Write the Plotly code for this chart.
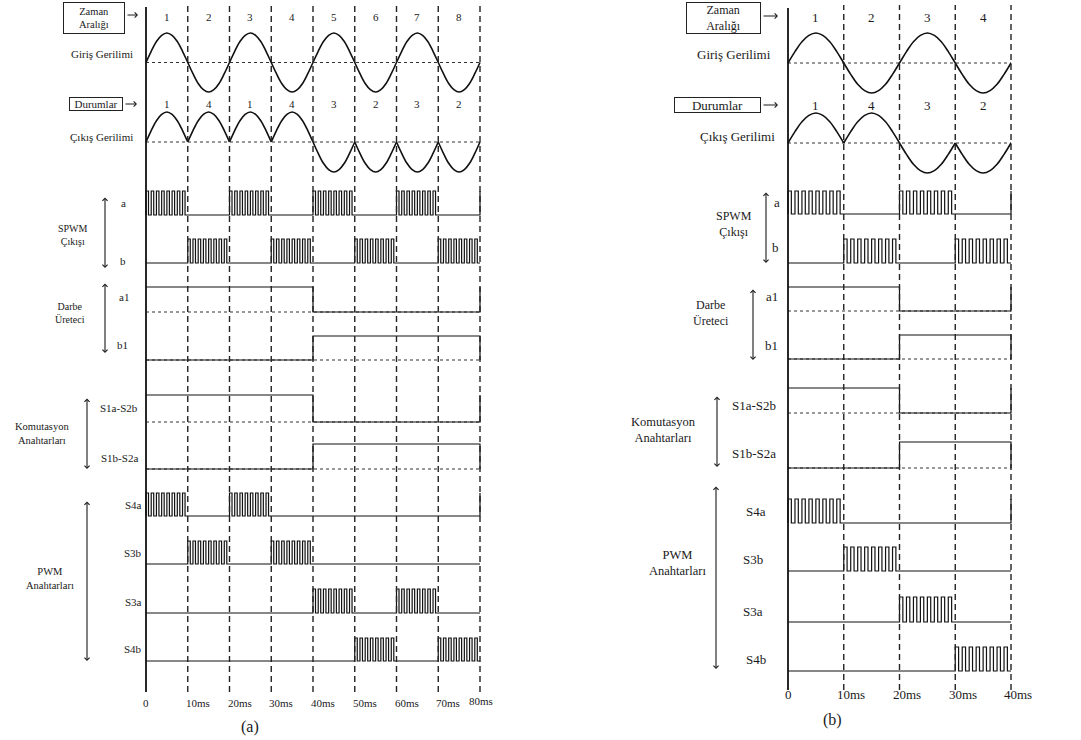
import plotly.graph_objects as go

W, H = 1081, 740

# ---------------- data ----------------
# panel (a): 0-80 ms, eight 10 ms intervals
zaman_a = ["1", "2", "3", "4", "5", "6", "7", "8"]
durum_a = ["1", "4", "1", "4", "3", "2", "3", "2"]
giris_a = [1, -1, 1, -1, 1, -1, 1, -1]      # polarity of each input half-cycle
cikis_a = [1, 1, 1, 1, -1, -1, -1, -1]      # polarity of each output half-cycle
spwm_a_a = [1, 0, 1, 0, 1, 0, 1, 0]
spwm_b_a = [0, 1, 0, 1, 0, 1, 0, 1]
a1_a = [1, 1, 1, 1, 0, 0, 0, 0]
b1_a = [0, 0, 0, 0, 1, 1, 1, 1]
s1a_s2b_a = [1, 1, 1, 1, 0, 0, 0, 0]
s1b_s2a_a = [0, 0, 0, 0, 1, 1, 1, 1]
s4a_a = [1, 0, 1, 0, 0, 0, 0, 0]
s3b_a = [0, 1, 0, 1, 0, 0, 0, 0]
s3a_a = [0, 0, 0, 0, 1, 0, 1, 0]
s4b_a = [0, 0, 0, 0, 0, 1, 0, 1]
ticks_a = [0, 10, 20, 30, 40, 50, 60, 70, 80]
tick_labels_a = ["0", "10ms", "20ms", "30ms", "40ms", "50ms", "60ms", "70ms", "80ms"]

# panel (b): 0-40 ms, four 10 ms intervals
zaman_b = ["1", "2", "3", "4"]
durum_b = ["1", "4", "3", "2"]
giris_b = [1, -1, 1, -1]
cikis_b = [1, 1, -1, -1]
spwm_a_b = [1, 0, 1, 0]
spwm_b_b = [0, 1, 0, 1]
a1_b = [1, 1, 0, 0]
b1_b = [0, 0, 1, 1]
s1a_s2b_b = [1, 1, 0, 0]
s1b_s2a_b = [0, 0, 1, 1]
s4a_b = [1, 0, 0, 0]
s3b_b = [0, 1, 0, 0]
s3a_b = [0, 0, 1, 0]
s4b_b = [0, 0, 0, 1]
ticks_b = [0, 10, 20, 30, 40]
tick_labels_b = ["0", "10ms", "20ms", "30ms", "40ms"]

interval_ms = 10
# one half-cycle of the sine, sampled (ms, per-unit)
hc_t = [0, 1.25, 2.5, 3.75, 5, 6.25, 7.5, 8.75, 10]
hc_v = [0, 0.38, 0.71, 0.92, 1, 0.92, 0.71, 0.38, 0]
# pulse edges inside an active 10 ms interval (ms)
pulse_on = [0.0, 1.25, 2.5, 3.75, 5.0, 6.25, 7.5, 8.75]
pulse_off = [0.6, 1.85, 3.1, 4.35, 5.6, 6.85, 8.1, 9.35]

# ---------------- style ----------------
FONT = "Liberation Serif, Times New Roman, DejaVu Serif, serif"
TXT = "#1a1a1a"
LINE = "#111111"

fig = go.Figure()
_ax = [0]


def new_yaxis(xid, top_px, bot_px, vlo, vhi, pad=5):
    _ax[0] += 1
    n = _ax[0]
    ppu = (bot_px - top_px) / (vhi - vlo)
    dom = [1 - (bot_px + pad) / H, 1 - (top_px - pad) / H]
    rng = [vlo - pad / ppu, vhi + pad / ppu]
    key = "yaxis" if n == 1 else f"yaxis{n}"
    fig.update_layout(**{key: dict(domain=dom, range=rng, visible=False,
                                    fixedrange=True, anchor=xid)})
    return "y" if n == 1 else f"y{n}"


def wave(signs, continuous):
    xs, ys = [], []
    for i, s in enumerate(signs):
        for j, (t, v) in enumerate(zip(hc_t, hc_v)):
            if continuous and i > 0 and j == 0:
                continue
            xs.append(i * interval_ms + t)
            ys.append(s * v)
        if not continuous:
            xs.append(None)
            ys.append(None)
    return xs, ys


def steps(levels, pulsed):
    xs, ys = [], []
    for i, lv in enumerate(levels):
        t0 = i * interval_ms
        if pulsed and lv:
            xs.append(t0); ys.append(0)
            for on, off in zip(pulse_on, pulse_off):
                xs += [t0 + on, t0 + off]
                ys += [1, 0]
        else:
            xs.append(t0); ys.append(lv)
    xs.append(len(levels) * interval_ms)
    ys.append(levels[0])
    return xs, ys


def line_trace(xs, ys, xid, yid, width=1.2, dash="solid", shape="hv", color=LINE):
    fig.add_trace(go.Scatter(x=xs, y=ys, xaxis=xid, yaxis=yid, mode="lines",
                             line=dict(color=color, width=width, dash=dash, shape=shape),
                             hoverinfo="skip", showlegend=False))


def txt(xpx, ypx, s, size, xanchor="center"):
    fig.add_annotation(x=xpx / W, y=1 - ypx / H, xref="paper", yref="paper", text=s,
                       showarrow=False, xanchor=xanchor, yanchor="middle", align="center",
                       font=dict(family=FONT, size=size, color=TXT))


def arrow(x0, y0, x1, y1, both=False):
    fig.add_annotation(x=x1 / W, y=1 - y1 / H, xref="paper", yref="paper",
                       ax=x0 - x1, ay=y0 - y1, text="", showarrow=True,
                       arrowhead=4, startarrowhead=4, arrowsize=0.9, startarrowsize=0.9,
                       arrowwidth=1.1, arrowcolor=TXT,
                       arrowside="end+start" if both else "end")


def box(cx, cy, w, h, s, size):
    fig.add_annotation(x=cx / W, y=1 - cy / H, xref="paper", yref="paper", text=s,
                       showarrow=False, xanchor="center", yanchor="middle",
                       bordercolor="#222", borderwidth=1, borderpad=0,
                       width=w, height=h, align="center", valign="middle",
                       font=dict(family=FONT, size=size, color=TXT))


panels = [
    dict(xid="x", xkey="xaxis", x0=146, x1=480, tmax=80, fs=11,
         zaman=zaman_a, durum=durum_a, ticks=ticks_a, tlabels=tick_labels_a,
         tshift=[0, 10, 10, 10, 10, 10, 10, 10, 1], ty=[703] * 8 + [701],
         vline=(5, 692), axline=(7, 692), zy=17, dy=104,
         rows=[
             ("in", giris_a, 33, 92, True),
             ("out", cikis_a, 112, 172, True),
             ("pwm", spwm_a_a, 191, 215, False),
             ("pwm", spwm_b_a, 239, 263, False),
             ("lvl", a1_a, 287, 312, True),
             ("lvl", b1_a, 336, 360, True),
             ("lvl", s1a_s2b_a, 395, 422, True),
             ("lvl", s1b_s2a_a, 444, 469, True),
             ("pwm", s4a_a, 493, 516, False),
             ("pwm", s3b_a, 541, 564, False),
             ("pwm", s3a_a, 589, 613, False),
             ("pwm", s4b_a, 638, 661, False),
         ]),
    dict(xid="x2", xkey="xaxis2", x0=788, x1=1011, tmax=40, fs=13,
         zaman=zaman_b, durum=durum_b, ticks=ticks_b, tlabels=tick_labels_b,
         tshift=[0, 7, 7, 8, 7], ty=[694] * 5,
         vline=(5, 690), axline=(8, 690), zy=18, dy=105,
         rows=[
             ("in", giris_b, 33, 93, True),
             ("out", cikis_b, 113, 173, True),
             ("pwm", spwm_a_b, 191, 214, False),
             ("pwm", spwm_b_b, 239, 263, False),
             ("lvl", a1_b, 287, 311, True),
             ("lvl", b1_b, 335, 359, True),
             ("lvl", s1a_s2b_b, 388, 413, True),
             ("lvl", s1b_s2a_b, 442, 468, True),
             ("pwm", s4a_b, 499, 523, False),
             ("pwm", s3b_b, 547, 571, False),
             ("pwm", s3a_b, 597, 622, False),
             ("pwm", s4b_b, 647, 671, False),
         ]),
]

for p in panels:
    xpad = 6
    ppm = (p["x1"] - p["x0"]) / p["tmax"]
    fig.update_layout(**{p["xkey"]: dict(
        domain=[(p["x0"] - xpad) / W, (p["x1"] + xpad) / W],
        range=[-xpad / ppm, p["tmax"] + xpad / ppm],
        visible=False, fixedrange=True)})
    tmax = p["tmax"]
    for kind, vals, top, bot, dotted in p["rows"]:
        if kind in ("in", "out"):
            yid = new_yaxis(p["xid"], top, bot, -1, 1)
            line_trace([0, tmax], [0, 0], p["xid"], yid, width=1, dash="dot",
                       shape="linear", color="#333")
            xs, ys = wave(vals, continuous=(kind == "in"))
            line_trace(xs, ys, p["xid"], yid, width=1.6, shape="spline")
        else:
            yid = new_yaxis(p["xid"], top, bot, 0, 1)
            if dotted:
                line_trace([0, tmax], [0, 0], p["xid"], yid, width=1, dash="dot",
                           shape="linear", color="#333")
            xs, ys = steps(vals, pulsed=(kind == "pwm"))
            line_trace(xs, ys, p["xid"], yid, width=1.2)
    # vertical reference lines
    for t in p["ticks"]:
        if t == 0:
            y0, y1 = p["axline"]
            fig.add_shape(type="line", xref=p["xid"], yref="paper", x0=t, x1=t,
                          y0=1 - y1 / H, y1=1 - y0 / H,
                          line=dict(color=LINE, width=1.8))
        else:
            y0, y1 = p["vline"]
            fig.add_shape(type="line", xref=p["xid"], yref="paper", x0=t, x1=t,
                          y0=1 - y1 / H, y1=1 - y0 / H,
                          line=dict(color="#222", width=1.4, dash="6px,4px"))
    # tick labels
    for t, lab, sh, ty in zip(p["ticks"], p["tlabels"], p["tshift"], p["ty"]):
        fig.add_annotation(x=t, y=1 - ty / H, xref=p["xid"], yref="paper", text=lab,
                           showarrow=False, xanchor="center", yanchor="middle", xshift=sh,
                           font=dict(family=FONT, size=p["fs"], color=TXT))
    # interval numbers and states
    for i, (z, d) in enumerate(zip(p["zaman"], p["durum"])):
        xc = (i + 0.5) * interval_ms
        for s, yy in ((z, p["zy"]), (d, p["dy"])):
            fig.add_annotation(x=xc, y=1 - yy / H, xref=p["xid"], yref="paper", text=s,
                               showarrow=False, xanchor="center", yanchor="middle",
                               font=dict(family=FONT, size=p["fs"], color=TXT))

# ---------------- labels, panel (a) ----------------
fa = 11
box(93.5, 18, 60, 30, "Zaman<br>Aralığı", 10.5)
arrow(126, 15, 138, 15)
txt(135, 54, "Giriş Gerilimi", fa, "right")
box(96, 104, 52, 12, "Durumlar", fa)
arrow(124, 104, 137, 104)
txt(135, 137, "Çıkış Gerilimi", fa, "right")
txt(73, 235, "SPWM<br>Çıkışı", 10)
txt(123, 203, "a", fa); txt(123, 261, "b", fa)
arrow(105, 196, 105, 268, both=True)
txt(70, 313, "Darbe<br>Üreteci", 10)
txt(124, 297, "a1", fa); txt(122, 345, "b1", fa)
arrow(105, 282, 105, 353, both=True)
txt(42, 433, "Komutasyon<br>Anahtarları", 10.5)
txt(119, 408, "S1a-S2b", fa); txt(119, 458, "S1b-S2a", fa)
arrow(87, 397, 87, 469, both=True)
txt(50, 578, "PWM<br>Anahtarları", 10.5)
txt(133, 505, "S4a", fa); txt(133, 553, "S3b", fa)
txt(133, 602, "S3a", fa); txt(133, 649, "S4b", fa)
arrow(87, 500, 87, 661, both=True)
txt(250, 727, "(a)", 16)

# ---------------- labels, panel (b) ----------------
fb = 13
box(723.5, 18, 73, 30, "Zaman<br>Aralığı", 12)
arrow(762, 16, 778, 16)
txt(773, 54, "Giriş Gerilimi", fb, "right")
box(717.5, 105.5, 85, 14, "Durumlar", fb)
arrow(762, 105, 778, 105)
txt(777, 136, "Çıkış Gerilimi", fb, "right")
txt(734, 224, "SPWM<br>Çıkışı", 12)
txt(777, 202, "a", fb); txt(775, 247, "b", fb)
arrow(766, 191, 766, 263, both=True)
txt(711, 313, "Darbe<br>Üreteci", 12)
txt(772, 296, "a1", fb); txt(771, 345, "b1", fb)
arrow(753, 288, 753, 360, both=True)
txt(663, 430, "Komutasyon<br>Anahtarları", 12.5)
txt(754, 406, "S1a-S2b", fb); txt(754, 454, "S1b-S2a", fb)
arrow(717, 395, 717, 467, both=True)
txt(677, 563, "PWM<br>Anahtarları", 12.5)
txt(756, 511, "S4a", fb); txt(753, 559, "S3b", fb)
txt(753, 611, "S3a", fb); txt(756, 659, "S4b", fb)
arrow(716, 485, 716, 669, both=True)
txt(832, 720, "(b)", 16)

fig.update_layout(width=W, height=H, autosize=False,
                  margin=dict(l=0, r=0, t=0, b=0, pad=0),
                  paper_bgcolor="white", plot_bgcolor="rgba(0,0,0,0)",
                  showlegend=False)

fig.write_html("out.html")
